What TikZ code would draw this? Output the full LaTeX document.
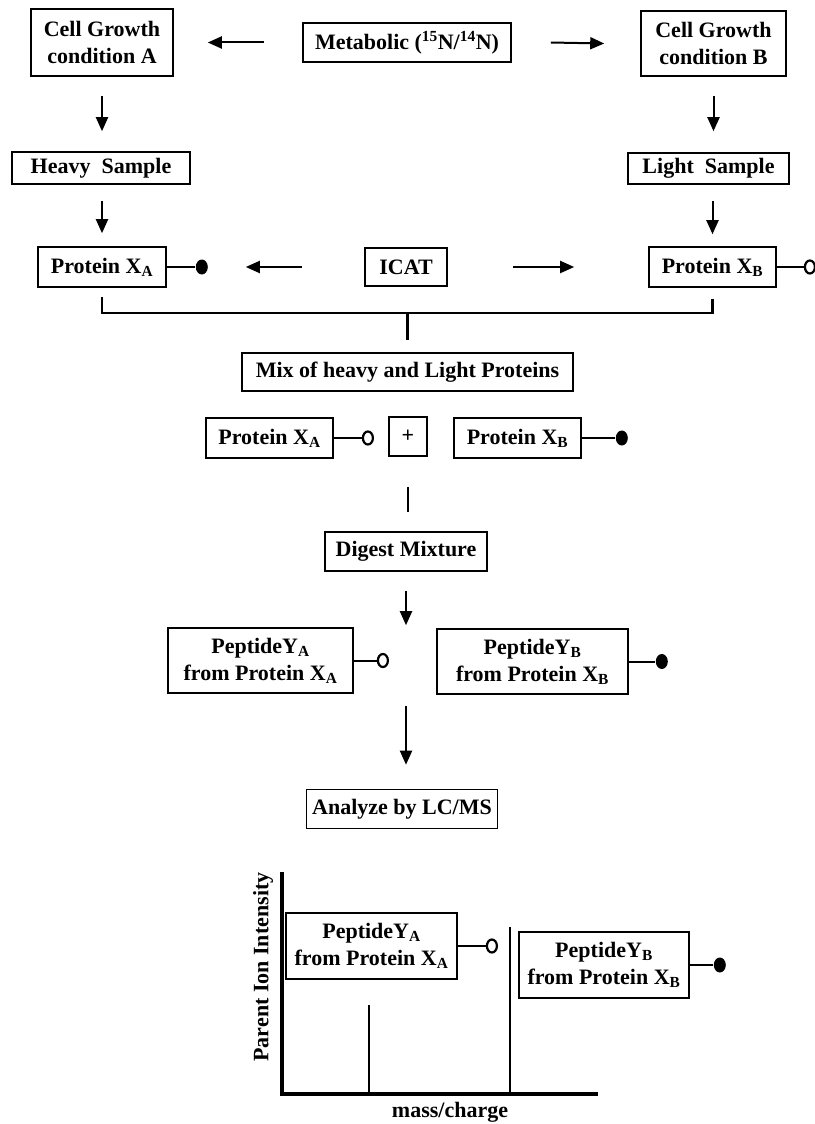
\documentclass[tikz,border=0pt]{standalone}
\usepackage{fontspec}
\setmainfont{Liberation Serif}
\usetikzlibrary{arrows.meta,shapes.geometric}
\tikzset{%
    stepbox/.style={draw, line width=1.6pt, inner sep=0pt, align=center},
    arr/.style={line width=2pt, -{Triangle[width=12pt,length=14pt]}},
    plain/.style={line width=2pt},
    bracket/.style={line width=2.4pt},
    stick/.style={line width=2pt},
    fullend/.style={ellipse, fill, inner sep=0pt, minimum width=12pt, minimum height=15pt, anchor=west},
    openend/.style={ellipse, draw, line width=2.2pt, fill=white, inner sep=0pt, minimum width=10pt, minimum height=13pt, anchor=west},
    axis/.style={line width=3.8pt},
    peak/.style={line width=2.8pt}
}

\begin{document}
\begin{tikzpicture}[x=1pt, y=1pt, font=\fontsize{22}{27}\selectfont\bfseries]
\useasboundingbox (0,0) rectangle (814,-1124);

% labelling
\node[stepbox, minimum width=142pt, minimum height=67pt] (growA) at (102,-42.5) {Cell Growth\\condition A};
\node[stepbox, minimum width=208pt, minimum height=39pt] (metab) at (407,-42.5) {Metabolic (\textsuperscript{15}N/\textsuperscript{14}N)};
\node[stepbox, minimum width=145pt, minimum height=65pt] (growB) at (713.5,-43.5) {Cell Growth\\condition B};
\node[stepbox, minimum width=178pt, minimum height=32pt] (heavy) at (101,-168) {Heavy~ Sample};
\node[stepbox, minimum width=161pt, minimum height=31pt] (light) at (708.5,-168.5) {Light~ Sample};
\node[stepbox, minimum width=128pt, minimum height=40pt] (protA) at (102,-267) {Protein X\textsubscript{A}};
\node[stepbox, minimum width=82pt, minimum height=38pt] (icat) at (406,-267) {ICAT};
\node[stepbox, minimum width=127pt, minimum height=40pt] (protB) at (712.5,-267) {Protein X\textsubscript{B}};

\draw[arr] ([xshift=-38pt]metab.west) -- ([xshift=34pt]growA.east);
\draw[arr] ([xshift=39pt]metab.east) -- ([xshift=-36pt]growB.west);
\draw[arr, shorten <=19pt, shorten >=20pt] (growA.south) -- (growA.south |- heavy.north);
\draw[arr, shorten <=19pt, shorten >=21pt] (growB.south) -- (growB.south |- light.north);
\draw[arr, shorten <=16pt, shorten >=13pt] (heavy.south -| protA.south) -- (protA.north);
\draw[arr, shorten <=16pt, shorten >=12pt] (light.south -| protB.south) -- (protB.north);
\draw[arr] ([xshift=-62pt]icat.west) -- ([xshift=79pt]protA.east);
\draw[arr] ([xshift=65pt]icat.east) -- ([xshift=-74pt]protB.west);
\draw[stick] (protA.east) -- ++(28pt,0) node[fullend] (tagA) {};
\draw[stick] (protB.east) -- ++(27pt,0) node[openend] (tagB) {};

% mixing
\coordinate (joint) at (407.5,-313);
\draw[bracket] ([yshift=-9pt]protA.south) |- (joint) -| ([yshift=-11pt]protB.south);
\node[stepbox, minimum width=331pt, minimum height=38pt] (mix) at (407.5,-372) {Mix of heavy and Light Proteins};
\draw[bracket, shorten >=12pt] (joint) -- (mix.north);

\node[stepbox, minimum width=127pt, minimum height=40pt] (mixA) at (269.5,-438) {Protein X\textsubscript{A}};
\node[stepbox, minimum width=38pt, minimum height=39pt] (plus) at (408,-436.5) {+};
\node[stepbox, minimum width=127pt, minimum height=40pt] (mixB) at (517.5,-438) {Protein X\textsubscript{B}};
\draw[stick] (mixA.east) -- ++(28pt,0) node[openend] (tagmixA) {};
\draw[stick] (mixB.east) -- ++(33pt,0) node[fullend] (tagmixB) {};

% digestion
\node[stepbox, minimum width=162pt, minimum height=39pt] (digest) at (406,-551.5) {Digest Mixture};
\draw[plain, shorten <=30pt, shorten >=19pt] (plus.south) -- (plus.south |- digest.north);

\node[stepbox, minimum width=185pt, minimum height=65pt] (pepA) at (260.5,-660.5) {PeptideY\textsubscript{A}\\from Protein X\textsubscript{A}};
\node[stepbox, minimum width=191pt, minimum height=65pt] (pepB) at (532.5,-661.5) {PeptideY\textsubscript{B}\\from Protein X\textsubscript{B}};
\draw[stick] (pepA.east) -- ++(23pt,0) node[openend] (tagpepA) {};
\draw[stick] (pepB.east) -- ++(26pt,0) node[fullend] (tagpepB) {};
\draw[arr, shorten <=19pt, shorten >=2pt] (digest.south) -- (digest.south |- pepA.north);

\node[stepbox, minimum width=191pt, minimum height=39pt] (analyze) at (402,-809) {Analyze by LC/MS};
\draw[arr, shorten <=12pt, shorten >=24pt] (digest.south |- pepA.south) -- (digest.south |- analyze.north);

% spectrum
\draw[axis] (282,-872) -- (282,-1094) -- (598,-1094);
\draw[peak] (369,-1094) -- (369,-1005);
\draw[peak] (510,-1094) -- (510,-927);
\node[rotate=90] (ylabel) at (263,-967) {Parent Ion Intensity};
\node (xlabel) at (450,-1112) {mass/charge};

\node[stepbox, minimum width=171pt, minimum height=66pt] (specA) at (371.5,-946) {PeptideY\textsubscript{A}\\from Protein X\textsubscript{A}};
\node[stepbox, minimum width=170pt, minimum height=66pt] (specB) at (604,-965) {PeptideY\textsubscript{B}\\from Protein X\textsubscript{B}};
\draw[stick] (specA.east) -- ++(28pt,0) node[openend] (tagspecA) {};
\draw[stick] (specB.east) -- ++(23pt,0) node[fullend] (tagspecB) {};
\end{tikzpicture}
\end{document}
